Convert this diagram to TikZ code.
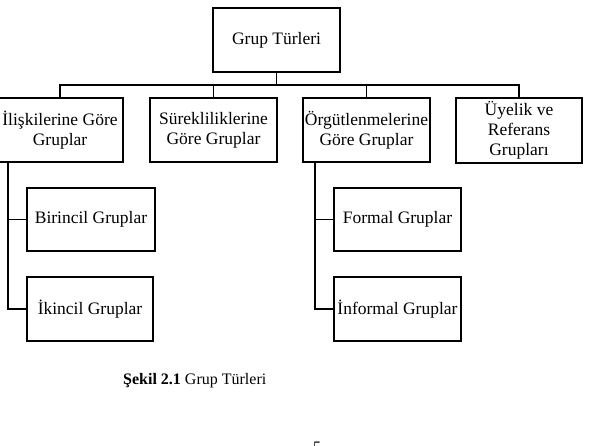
\documentclass[tikz,border=0pt]{standalone}
\usepackage{fontspec}
\setmainfont{Liberation Serif}
\begin{document}
\begin{tikzpicture}[x=1pt,y=-1pt,
  box/.style={draw,line width=1.2pt,inner sep=1pt,align=center,font=\fontsize{17.5}{20}\selectfont},
  conn/.style={line width=1.2pt}]
\useasboundingbox (0,0) rectangle (591,445);
\node[box,minimum width=127,minimum height=64] (top) at (276.5,40) {Grup Türleri};
\node[box,minimum width=126,minimum height=64] (b1) at (60,130) {İlişkilerine Göre\\Gruplar};
\node[box,minimum width=127,minimum height=64] (b2) at (213.5,130) {Sürekliliklerine\\Göre Gruplar};
\node[box,minimum width=127,minimum height=64] (b3) at (366.5,130) {Örgütlenmelerine\\Göre Gruplar};
\node[box,minimum width=126,minimum height=65] (b4) at (519,130.5) {Üyelik ve\\Referans\\Grupları};
\node[box,minimum width=128,minimum height=63] (c1) at (91,219.5) {Birincil Gruplar};
\node[box,minimum width=126,minimum height=64] (c2) at (90,309) {İkincil Gruplar};
\node[box,minimum width=127,minimum height=63] (f1) at (397.5,219.5) {Formal Gruplar};
\node[box,minimum width=127,minimum height=64] (f2) at (397.5,309) {İnformal Gruplar};
\coordinate (bus) at (0,85);
\coordinate (vl) at (8,0);
\coordinate (vr) at (315,0);
\draw[conn] (top.south) -- (top.south |- bus);
\draw[conn] (b1.north) -- (b1.north |- bus) -- (b4.north |- bus) -- (b4.north);
\draw[conn] (b2.north) -- (b2.north |- bus);
\draw[conn] (b3.north) -- (b3.north |- bus);
\draw[conn] (vl |- b1.south) -- (vl |- c2.west) -- (c2.west);
\draw[conn] (vl |- c1.west) -- (c1.west);
\draw[conn] (vr |- b3.south) -- (vr |- f2.west) -- (f2.west);
\draw[conn] (vr |- f1.west) -- (f1.west);
\node[anchor=west,inner sep=0pt,font=\fontsize{16}{19}\selectfont] (cap) at (123,381) {\textbf{Şekil 2.1} Grup Türleri};
\node[anchor=north,inner sep=0pt,font=\fontsize{16}{19}\selectfont] (pg) at (317,442) {5};
\end{tikzpicture}
\end{document}
